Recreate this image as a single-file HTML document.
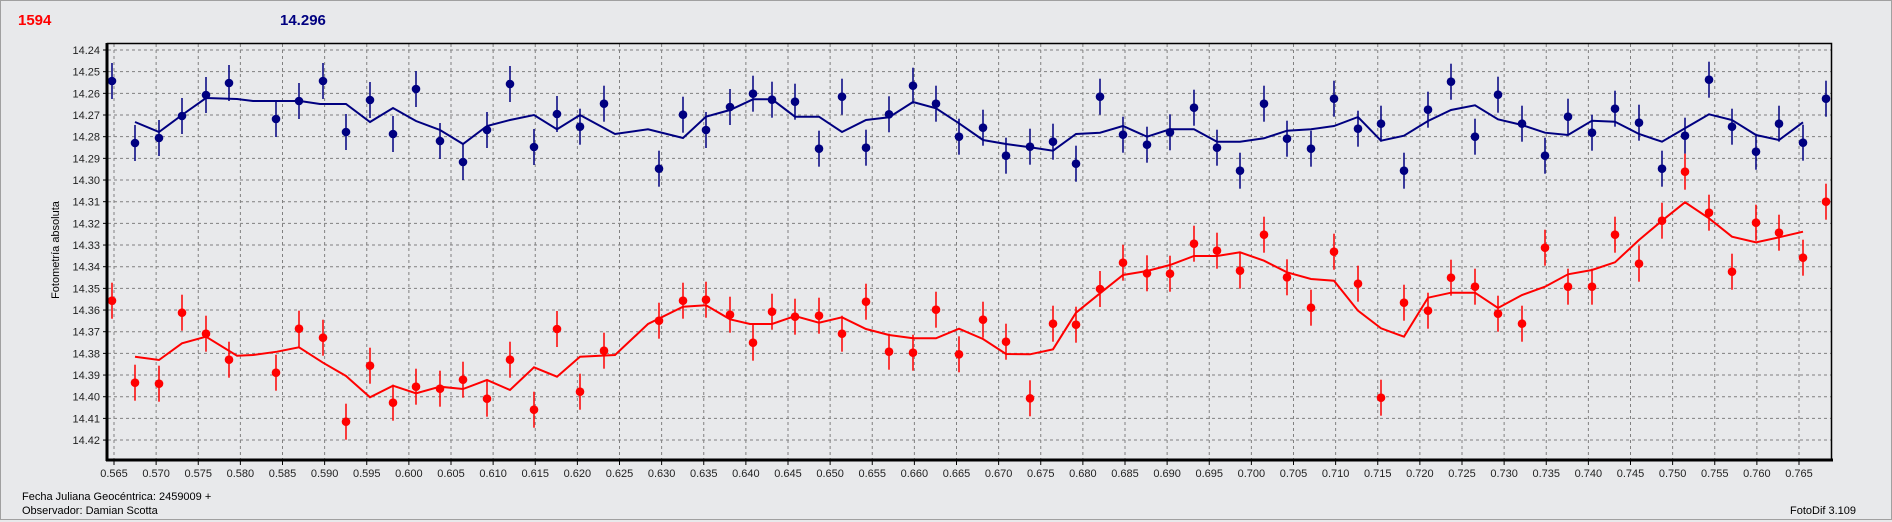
<!DOCTYPE html>
<html><head><meta charset="utf-8"><style>
html,body{margin:0;padding:0;background:#e8e9eb;}
body{width:1892px;height:522px;overflow:hidden;font-family:"Liberation Sans",sans-serif;}
svg{display:block}
</style></head><body>
<svg id="s" width="1892" height="522" xmlns="http://www.w3.org/2000/svg" font-family="Liberation Sans, sans-serif">
<rect x="0" y="0" width="1892" height="522" fill="#e8e9eb"/>
<rect x="0.5" y="0.5" width="1891" height="519" fill="none" stroke="#a0a0a0"/>
<text x="18" y="25" font-size="15" font-weight="bold" fill="#ff0000">1594</text>
<text x="280" y="25" font-size="15" font-weight="bold" fill="#000080">14.296</text>
<text transform="translate(59,250) rotate(-90)" font-size="11" text-anchor="middle" fill="#000">Fotometría absoluta</text>
<text x="22" y="500" font-size="11" fill="#000">Fecha Juliana Geocéntrica: 2459009 +</text>
<text x="22" y="514" font-size="11" fill="#000">Observador: Damian Scotta</text>
<text x="1790" y="514" font-size="11" fill="#000">FotoDif 3.109</text>
<g id="grid"></g>
<g id="data"></g>
<rect x="107.5" y="43.5" width="1724" height="416" fill="none" stroke="#000" stroke-width="1.5"/>
<line x1="107" y1="43" x2="107" y2="461" stroke="#000" stroke-width="3"/>
<line x1="106" y1="460" x2="1833" y2="460" stroke="#000" stroke-width="3"/>
</svg>
<script>
var NS="http://www.w3.org/2000/svg";
function el(p,n,a,t){var e=document.createElementNS(NS,n);for(var k in a)e.setAttribute(k,a[k]);if(t!==undefined)e.textContent=t;p.appendChild(e);return e;}
var g=document.getElementById('grid');
for(var k=0;k<=40;k++){var x=114+k*42.125;
 el(g,'line',{x1:x,y1:44,x2:x,y2:459,stroke:'#808080','stroke-dasharray':'3,3','stroke-width':1});
 el(g,'line',{x1:x,y1:460,x2:x,y2:465,stroke:'#000'});
 el(g,'text',{x:x,y:477,'font-size':11,'text-anchor':'middle',fill:'#222'},(0.565+k*0.005).toFixed(3));
}
for(var k=0;k<=18;k++){var y=50+k*21.67;
 el(g,'line',{x1:108,y1:y,x2:1831,y2:y,stroke:'#808080','stroke-dasharray':'3,3','stroke-width':1});
 el(g,'line',{x1:103,y1:y,x2:107,y2:y,stroke:'#000'});
 el(g,'text',{x:100,y:y+4,'font-size':11,'text-anchor':'end',fill:'#222'},(14.24+k*0.01).toFixed(2));
}
var bx=[112,135,159,182,206,229,276,299,323,346,370,393,416,440,463,487,510,534,557,580,604,659,683,706,730,753,772,795,819,842,866,889,913,936,959,983,1006,1030,1053,1076,1100,1123,1147,1170,1194,1217,1240,1264,1287,1311,1334,1358,1381,1404,1428,1451,1475,1498,1522,1545,1568,1592,1615,1639,1662,1685,1709,1732,1756,1779,1803,1826];
var by=[81,143,138,116,95,83,119,101,81,132,100,134,89,141,162,130,84,147,114,126.7,103.7,168.7,114.7,130,107,93.7,99.7,101.7,148.7,96.7,147.7,114.3,85.7,103.7,136.7,127.7,155.7,146.7,141.7,163.7,96.7,134.7,144.7,132.3,107.7,147.7,170.7,103.7,138.7,148.7,98.7,128.7,123.7,170.7,109.7,81.7,136.7,94.7,123.7,155.7,116.7,132.7,108.7,122.7,168.7,135.7,79.7,126.7,151.7,123.7,142.7,98.7];
var ry=[300.7,382.7,383.7,312.7,333.7,359.7,372.7,328.7,337.7,421.7,365.7,402.7,386.7,388.7,379.7,398.7,359.7,409.7,329,391.7,350.7,320.7,300.7,299.7,314.7,342.7,311.7,316.7,315.7,333.7,301.7,351.7,352.7,309.7,354.3,319.7,341.7,398.3,323.7,324.7,289,262.7,273.3,273.7,243.7,250.7,270.7,234.7,277.3,307.7,251.7,283.7,397.7,302.7,310.7,277.7,286.7,313.7,323.7,247.7,286.7,286.7,234.7,263.7,220.7,171.7,212.7,271.7,222.7,232.7,257.7,201.7];
var bl="135,122 159,132 182,115 206,98 237,99 253,101 300,101 320,104 346,104 370,122 393,108 416,121 440,130 463,144 487,126 510,120 534,115 557,129.3 580,115 615,134 648,129.3 683,138 706,116.7 730,110 753,99.3 772,99.3 795,116.7 819,116.7 842,132 866,120 889,117.3 913,102 936,108.3 959,123.3 983,140 1006,144 1030,147.3 1053,150.7 1076,134 1100,132.7 1123,126 1147,136.7 1170,129.3 1194,129.3 1217,141.7 1240,141.7 1264,138.3 1287,130.7 1311,129.3 1334,126 1358,117 1381,140.7 1404,135.7 1428,121 1451,110 1475,105.3 1498,119.3 1522,125 1545,132.7 1568,135 1592,120.7 1615,121.7 1639,134 1662,141.7 1685,128.3 1709,114.3 1732,120 1756,135 1779,140 1803,122.3";
var rl="135,356.7 159,360 182,343.3 206,336.7 237,355.7 253,355 277,351.7 299,347.3 323,362.7 346,376 370,397.3 393,385.7 416,393.3 440,386.7 463,389 487,380 510,390 534,367.3 557,376.7 580,356.7 615,355 648,324 683,306.7 706,305.3 730,319.3 750,324 772,324 795,316 819,322.7 842,317.3 866,329 889,335 913,338.3 936,338.3 959,328.7 983,339 1006,354 1030,354.3 1053,349.3 1076,312.7 1100,293.3 1123,275 1147,271 1170,265 1194,256 1217,256 1240,252.3 1264,260.7 1287,272.3 1311,279 1334,280.7 1358,310.7 1381,328.3 1404,336.7 1428,297.7 1451,292.7 1475,292.7 1498,308 1522,295 1545,286.7 1568,274.3 1592,270 1615,262.3 1639,240 1662,220.7 1685,202.3 1709,218.3 1732,236.7 1756,242.3 1779,237.3 1803,231.7";
var d=document.getElementById('data');
el(d,'polyline',{points:bl,fill:'none',stroke:'#000080','stroke-width':2});
el(d,'polyline',{points:rl,fill:'none',stroke:'#ff0000','stroke-width':2});
function pts(ys,c){for(var i=0;i<bx.length;i++){var x=bx[i],y=ys[i];
 el(d,'line',{x1:x,y1:y-18,x2:x,y2:y+18,stroke:c,'stroke-width':1.5});
 el(d,'circle',{cx:x,cy:y,r:4.3,fill:c});}}
pts(by,'#000080');pts(ry,'#ff0000');
</script>
</body></html>
